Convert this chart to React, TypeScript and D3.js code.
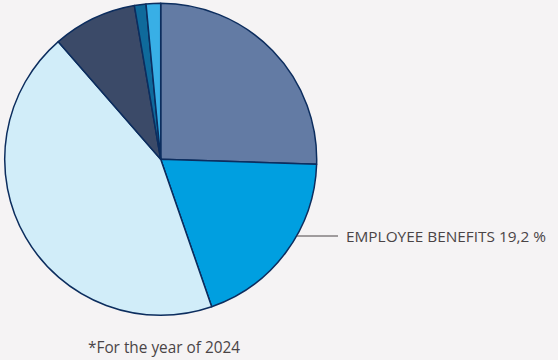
import React from "react";
import * as d3 from "d3";

const categories = ["Category 1", "Employee benefits", "Category 3", "Category 4", "Category 5", "Category 6"];
const values = [25.5, 19.2, 43.9, 8.7, 1.2, 1.5];
const colors = ["#637ba4", "#009fe0", "#d1edf9", "#3b4a68", "#0f6a9b", "#38afe6"];
const labelText = "EMPLOYEE BENEFITS 19,2 %";
const footnote = "*For the year of 2024";

export default function App() {
  const W = 558, H = 360;
  const cx = 160.7, cy = 159.3, r = 156;
  const pie = d3.pie<number>().sort(null).value((d) => d);
  const arcs = pie(values);
  const arc = d3.arc<d3.PieArcDatum<number>>().innerRadius(0).outerRadius(r);
  const labelY = 236;
  const edgeX = cx + Math.sqrt(r * r - (labelY - cy) * (labelY - cy));
  return (
    <svg width={W} height={H} style={{ position: "absolute", left: 0, top: 0, display: "block" }}>
      <rect width={W} height={H} fill="#f5f3f4" />
      <g transform={`translate(${cx},${cy})`}>
        {arcs.map((a, i) => (
          <path key={categories[i]} d={arc(a) || ""} fill={colors[i]} stroke="#0c2d5e" strokeWidth={1.5} strokeLinejoin="round" />
        ))}
      </g>
      <line x1={edgeX} x2={338} y1={labelY} y2={labelY} stroke="#4a4446" strokeWidth={1} />
      <text x={346} y={242} fontFamily="'Open Sans', sans-serif" fontSize={15} fill="#4a4446" textLength={200} lengthAdjust="spacingAndGlyphs">
        {labelText}
      </text>
      <text x={88} y={353.3} fontFamily="'Open Sans', sans-serif" fontSize={17} fill="#4a4446" textLength={152} lengthAdjust="spacingAndGlyphs">
        {footnote}
      </text>
    </svg>
  );
}
